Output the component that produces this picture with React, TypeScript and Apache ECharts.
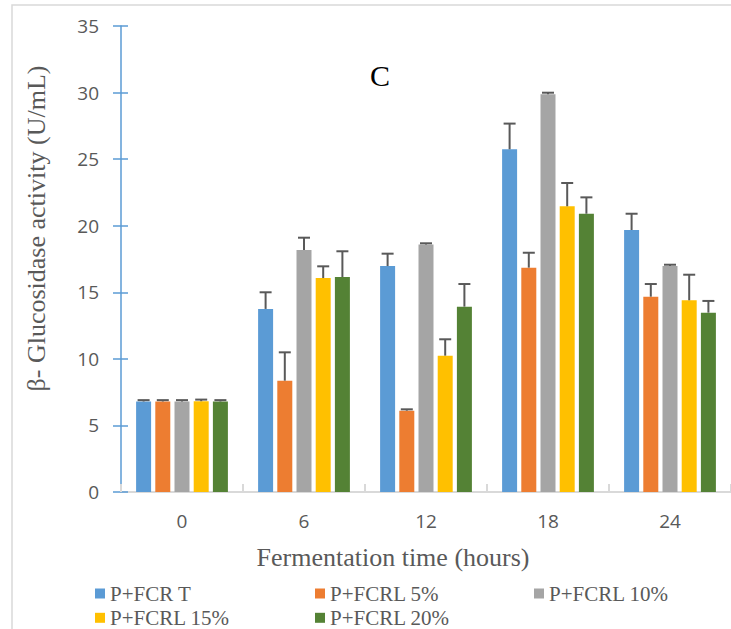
import React, { useEffect, useRef } from "react";
import * as echarts from "echarts";

const categories = ["0", "6", "12", "18", "24"];
const seriesNames = ["P+FCR T", "P+FCRL 5%", "P+FCRL 10%", "P+FCRL 15%", "P+FCRL 20%"];
const colors = ["#5B9BD5", "#ED7D31", "#A5A5A5", "#FFC000", "#548235"];

const fcrT = [6.8, 13.75, 16.97, 25.74, 19.68];
const fcrTErr = [0.1, 1.25, 0.93, 1.93, 1.22];
const fcrl5 = [6.8, 8.36, 6.11, 16.85, 14.67];
const fcrl5Err = [0.1, 2.13, 0.1, 1.12, 0.95];
const fcrl10 = [6.8, 18.18, 18.58, 29.87, 16.97];
const fcrl10Err = [0.1, 0.92, 0.1, 0.12, 0.1];
const fcrl15 = [6.82, 16.07, 10.24, 21.46, 14.4];
const fcrl15Err = [0.12, 0.88, 1.23, 1.75, 1.92];
const fcrl20 = [6.8, 16.15, 13.92, 20.9, 13.47];
const fcrl20Err = [0.1, 1.93, 1.7, 1.23, 0.88];

const values = [fcrT, fcrl5, fcrl10, fcrl15, fcrl20];
const errors = [fcrTErr, fcrl5Err, fcrl10Err, fcrl15Err, fcrl20Err];

const chartTitle = "C";
const yAxisTitle = "β- Glucosidase activity (U/mL)";
const xAxisTitle = "Fermentation time (hours)";

const SERIF = "Liberation Serif";
const SANS = "Open Sans";
const BAR_W = 15;
const BAR_GAP = 0.28;

export default function App() {
  const ref = useRef<HTMLDivElement>(null);

  useEffect(() => {
    if (!ref.current) return;
    const chart = echarts.init(ref.current, null, { renderer: "svg" });
    const pitch = BAR_W * (1 + BAR_GAP);

    const errData: number[][] = [];
    values.forEach((vals, si) => {
      vals.forEach((v, ci) => {
        errData.push([ci, v, errors[si][ci], si]);
      });
    });

    const legendLefts = [95, 315, 534, 95, 315];
    const legendTops = [583, 583, 583, 607.3, 607.3];

    const option: any = {
      animation: false,
      grid: { left: 121, right: -12, top: 26, bottom: 137, containLabel: false },
      graphic: [
        {
          type: "rect",
          shape: { x: 12, y: 5, width: 800, height: 700 },
          style: { fill: "none", stroke: "#D9D9D9", lineWidth: 1.5 },
          silent: true,
          z: -10,
        },
        {
          type: "text",
          x: 380,
          y: 75.5,
          style: {
            text: chartTitle,
            fontFamily: SERIF,
            fontSize: 30,
            fill: "#000000",
            align: "center",
            verticalAlign: "middle",
          },
        },
        {
          type: "text",
          x: 36.5,
          y: 228.5,
          rotation: Math.PI / 2,
          style: {
            text: yAxisTitle,
            fontFamily: SERIF,
            fontSize: 26,
            fill: "#595959",
            align: "center",
            verticalAlign: "middle",
          },
        },
        {
          type: "text",
          x: 393,
          y: 557,
          style: {
            text: xAxisTitle,
            fontFamily: SERIF,
            fontSize: 26,
            fill: "#595959",
            align: "center",
            verticalAlign: "middle",
          },
        },
      ],
      legend: seriesNames.map((n, i) => ({
        data: [n],
        left: legendLefts[i],
        top: legendTops[i],
        itemWidth: 10,
        itemHeight: 10,
        itemGap: 0,
        padding: 0,
        icon: "rect",
        selectedMode: false,
        textStyle: {
          fontFamily: SERIF,
          fontSize: 21,
          lineHeight: 18,
          color: "#595959",
          padding: [0, 0, 0, 0],
        },
      })),
      xAxis: {
        type: "category",
        data: categories,
        axisLine: { show: true, lineStyle: { color: "#D9D9D9", width: 2 } },
        axisTick: { show: true, inside: true, length: 8, lineStyle: { color: "#D9D9D9", width: 2 } },
        axisLabel: { color: "#595959", fontFamily: SANS, fontSize: 19, margin: 19 },
        splitLine: { show: false },
      },
      yAxis: [
        {
          type: "value",
          min: 0,
          max: 35,
          interval: 5,
          position: "left",
          axisLine: { show: true, lineStyle: { color: "#5B9BD5", width: 1.5 } },
          axisTick: { show: true, length: 8, lineStyle: { color: "#5B9BD5", width: 1.5 } },
          axisLabel: { color: "#595959", fontFamily: SANS, fontSize: 19, margin: 22 },
          splitLine: { show: false },
        },
        {
          type: "value",
          min: 0,
          max: 35,
          interval: 5,
          position: "left",
          axisLine: { show: false },
          axisTick: { show: true, inside: true, length: 7, lineStyle: { color: "#5B9BD5", width: 1.5 } },
          axisLabel: { show: false },
          splitLine: { show: false },
        },
      ],
      series: [
        ...seriesNames.map((n, i) => ({
          name: n,
          type: "bar",
          data: values[i],
          barWidth: BAR_W,
          barGap: `${BAR_GAP * 100}%`,
          itemStyle: { color: colors[i] },
          z: 2,
        })),
        {
          type: "custom",
          name: "errors",
          data: errData,
          z: 5,
          clip: false,
          encode: { x: 0, y: 1 },
          renderItem: (params: any, api: any) => {
            const ci = api.value(0);
            const v = api.value(1);
            const e = api.value(2);
            const si = api.value(3);
            const base = api.coord([ci, v]);
            const top = api.coord([ci, v + e]);
            const x = base[0] + (si - 2) * pitch;
            const st = { stroke: "#595959", lineWidth: 2 };
            return {
              type: "group",
              children: [
                { type: "line", shape: { x1: x, y1: base[1], x2: x, y2: top[1] }, style: st },
                { type: "line", shape: { x1: x - 6, y1: top[1], x2: x + 6, y2: top[1] }, style: st },
              ],
            };
          },
        },
      ],
    };

    chart.setOption(option);
    return () => chart.dispose();
  }, []);

  return (
    <div
      ref={ref}
      style={{ position: "absolute", left: 0, top: 0, width: 731, height: 629, background: "#fff" }}
    />
  );
}
